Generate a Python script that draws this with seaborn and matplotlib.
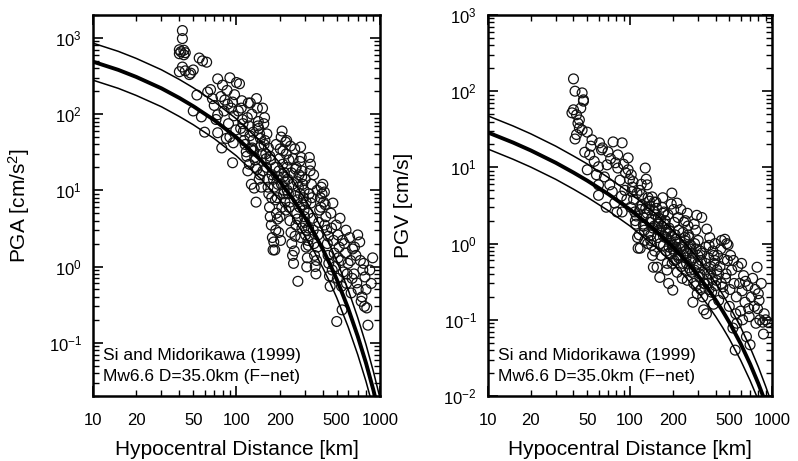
import numpy as np
import pandas as pd
import matplotlib
matplotlib.use("Agg")
import matplotlib.pyplot as plt
import seaborn as sns
from matplotlib.ticker import FixedLocator, FixedFormatter, FuncFormatter, LogLocator, NullFormatter

# attenuation curves (Si and Midorikawa 1999)
curve_dist = [10, 15, 20, 30, 40, 50, 70, 100, 150, 200, 250, 300, 350, 400, 450,
              500, 600, 700, 800, 900, 1000]
pga_mean = [488, 381, 308, 218, 163, 127, 83.5, 49.5, 24.2, 13.1, 7.5, 4.4, 2.7, 1.68,
            1.06, 0.68, 0.284, 0.122, 0.054, 0.024, 0.0108]
pga_upper = [854, 667, 539, 382, 285, 222, 146, 86.6, 42.4, 22.9, 13.1, 7.7, 4.7, 2.94,
             1.86, 1.19, 0.50, 0.214, 0.0945, 0.042, 0.0189]
pga_lower = [279, 218, 176, 125, 93, 72.6, 47.7, 28.3, 13.8, 7.5, 4.3, 2.5, 1.54, 0.96,
             0.61, 0.39, 0.162, 0.070, 0.031, 0.0137, 0.0062]
pgv_mean = [28.7, 21.2, 16.7, 11.5, 8.55, 6.7, 4.49, 2.80, 1.51, 0.908, 0.58, 0.385,
            0.263, 0.183, 0.1295, 0.0927, 0.0489, 0.0264, 0.0146, 0.0082, 0.0047]
pgv_upper = [47.4, 35, 27.6, 19, 14.1, 11.1, 7.4, 4.62, 2.49, 1.5, 0.96, 0.635, 0.434,
             0.302, 0.214, 0.153, 0.0807, 0.0436, 0.0241, 0.0135, 0.0078]
pgv_lower = [17.4, 12.8, 10.1, 6.97, 5.18, 4.06, 2.72, 1.70, 0.915, 0.55, 0.352, 0.233,
             0.159, 0.111, 0.0785, 0.0562, 0.0296, 0.016, 0.00885, 0.00497, 0.00285]

# observed PGA [cm/s2] vs hypocentral distance [km]
pga_dist = [42, 42, 40, 41, 43, 44, 40, 42, 43, 50, 40, 47, 55, 62, 58, 44, 48, 50, 57, 60,
            74, 90, 63, 86, 83, 94, 53, 74, 74, 90, 79, 94, 66, 70, 78, 82, 88, 92, 96, 99,
            85, 72, 68, 80, 97, 100, 95, 87,
            105, 108, 110, 112, 115, 118, 120, 122, 125, 128, 130, 132, 135, 138, 140, 142,
            145, 148, 150, 103, 107, 113, 117, 123, 127, 133, 137, 143, 147, 109, 119, 124,
            129, 134, 139, 144, 149, 111, 121, 131,
            152, 155, 158, 160, 162, 165, 168, 170, 172, 175, 178, 180, 182, 185, 188, 190,
            192, 195, 198, 200, 202, 205, 208, 210, 212, 215, 218, 220, 157, 163, 167, 173,
            177, 183, 187, 193, 197, 203, 207, 213, 217, 153, 171, 189, 211,
            222, 225, 228, 230, 233, 236, 240, 243, 246, 250, 253, 256, 260, 263, 266, 268,
            270, 273, 276, 280, 283, 286, 290, 293, 296, 300, 303, 306, 309, 312, 315, 318,
            224, 238, 248, 258, 265, 278, 288, 298, 308, 317, 232, 255, 285,
            322, 326, 330, 333, 336, 340, 343, 347, 350, 354, 358, 362, 366, 370, 375, 380,
            385, 390, 395, 400, 405, 410, 415, 420, 425, 430, 435, 440, 445, 450, 328, 345,
            365, 388, 412, 437,
            455, 460, 470, 475, 480, 490, 500, 505, 510, 520, 527, 535, 545, 555, 565, 575,
            585, 600, 615, 630, 645, 465, 495, 540, 580, 512, 548, 590, 625, 640,
            660, 680, 690, 700, 723, 740, 750, 770, 786, 800, 810, 825, 850, 890, 870, 665,
            705, 730, 760, 780,
            126, 136, 146, 156, 166, 176, 186, 196, 206, 216, 226, 236, 246, 256, 266, 276,
            286, 296, 306, 316, 141, 161, 181, 201, 221, 241, 261, 281, 301, 321]
pga_obs = [1250, 980, 700, 660, 690, 640, 620, 415, 600, 380, 360, 330, 545, 480, 500, 370,
           345, 110, 92, 58,
           290, 300, 195, 205, 153, 144, 178, 98, 57, 50, 36, 23, 210, 130, 170, 110, 75, 120,
           95, 62, 48, 85, 160, 240, 180, 260, 42, 135,
           250, 120, 85, 60, 40, 28, 18, 70, 140, 100, 45, 33, 25, 160, 120, 80, 55, 38, 30,
           110, 65, 45, 32, 22, 12, 10.7, 7, 65, 48, 150, 90, 52, 36, 27, 19, 14, 11, 75, 140,
           58,
           120, 75, 45, 30, 20, 14, 9, 6, 4.5, 3.5, 2.4, 1.65, 2.1, 1.65, 3, 5, 8, 12, 18, 26,
           35, 50, 60, 22, 15, 10, 7, 43, 90, 55, 36, 25, 16, 11, 7.5, 4.2, 2.8, 2.2, 6, 9, 13,
           18, 28, 40, 33,
           30, 20, 14, 9, 6, 4, 2.8, 2, 1.4, 1.1, 1.6, 2.5, 3.5, 5, 7.5, 0.64, 11, 16, 24, 37,
           27, 18, 12, 8, 5.5, 3.8, 2.6, 1.8, 0.99, 1.3, 2.2, 3.2, 45, 38, 26, 19, 13, 9, 6.5,
           4.5, 3, 1.9, 25, 35, 15,
           27, 18, 6.8, 12, 8, 4.3, 3, 2, 1.4, 1, 0.8, 1.2, 1.8, 2.6, 3.8, 5.5, 8, 11, 9, 12,
           7, 9.5, 6.5, 4.5, 3, 2, 1.4, 1.1, 0.75, 0.55, 22, 16, 10, 6, 3.5, 2.5,
           5, 3.2, 6.8, 2.2, 1.5, 1, 0.19, 0.7, 2.6, 1.8, 4.3, 1.2, 0.27, 0.85, 2, 1.5, 0.6,
           1.1, 2.4, 0.45, 1.7, 0.9, 3.5, 0.55, 3, 1.3, 2.2, 0.8, 1.2, 0.7,
           0.8, 1.4, 0.61, 2.6, 2.1, 0.35, 0.4, 1.1, 0.73, 0.5, 0.286, 0.17, 0.9, 1.3, 0.6,
           1.8, 0.5, 1.2, 0.9, 0.3,
           35, 20, 16, 40, 11, 8, 20, 15, 12, 17, 10, 7, 12, 8.5, 4.2, 6, 3.2, 10, 7, 5, 70,
           26, 14, 4.5, 5.5, 17, 20, 2.4, 14, 9]

# observed PGV [cm/s] vs hypocentral distance [km]
pgv_dist = [40, 41, 46, 47, 40, 42, 44, 44, 41, 50, 47, 45, 43, 48, 52, 39, 46, 42,
            54, 61, 76, 88, 63, 82, 97, 50, 60, 69, 82, 97, 60, 72, 60, 78, 81, 88, 56, 66,
            73, 85, 92, 95, 58, 64, 70, 75, 90, 99, 68, 79, 87, 93, 53,
            102, 104, 106, 108, 110, 112, 114, 116, 118, 120, 122, 124, 126, 128, 130, 132,
            134, 136, 138, 140, 142, 144, 146, 148, 150, 101, 105, 109, 113, 117, 121, 125,
            129, 133, 137, 141, 145, 149, 103, 111, 119, 127, 135, 143, 147,
            152, 155, 158, 160, 163, 165, 168, 170, 173, 175, 178, 180, 183, 185, 188, 190,
            193, 195, 197, 200, 203, 205, 208, 210, 213, 215, 218, 220, 154, 162, 167, 172,
            177, 182, 187, 192, 199, 204, 209, 214, 219, 157, 171, 186, 201,
            223, 226, 230, 233, 236, 240, 243, 247, 250, 253, 256, 260, 264, 268, 272, 277,
            281, 285, 290, 295, 300, 305, 310, 315, 320, 228, 238, 248, 258, 266, 275, 283,
            292, 302, 312, 245, 253, 262, 297, 318,
            325, 330, 337, 342, 347, 352, 358, 364, 370, 376, 383, 390, 397, 405, 413, 421,
            430, 440, 450, 460, 465, 475, 480, 490, 500, 335, 360, 387, 410, 435, 455, 470,
            485, 345, 395,
            510, 520, 530, 540, 550, 560, 575, 590, 600, 615, 630, 645, 660, 675, 690, 700,
            715, 535, 565, 610, 650, 685, 505, 620, 555,
            730, 750, 770, 784, 790, 800, 820, 840, 860, 880, 900, 935, 760, 870, 810,
            124, 132, 140, 148, 156, 164, 172, 180, 188, 196, 204, 212, 220, 228, 236, 244,
            252, 260, 268, 276, 284, 292, 300, 310, 320, 330, 340, 350, 360, 370, 380, 390,
            400, 420, 440, 118, 138, 158, 178, 198]
pgv_obs = [145, 100, 95, 77, 57, 49, 42, 33, 23.6, 29, 74, 60, 38, 15.8, 14.6, 52, 31, 27,
           23, 21, 21.6, 21, 17, 14.6, 13.3, 9.3, 10.2, 10.8, 9.8, 9.3, 5.9, 5.9, 4.3, 3.4,
           2.6, 2.6, 12, 7.5, 13, 6.8, 5, 3.8, 8, 18, 16, 4.8, 11, 7, 3, 11.5, 4.2, 8.5, 19,
           8, 5.5, 3.8, 2.6, 1.8, 4.6, 0.87, 1.3, 0.87, 6, 3.2, 2.2, 1.5, 9.8, 7, 5.9, 4, 2.8,
           1.9, 1.3, 0.95, 0.7, 0.49, 3.5, 2.4, 3, 6.5, 2, 1.2, 5, 4.4, 1.7, 2.9, 1, 3.6, 2.1,
           1.6, 0.8, 4.8, 2.3, 3.1, 1.1, 1.4, 4.1, 2.7,
           3.5, 0.49, 2.2, 1.5, 1, 0.7, 3, 4, 2.6, 1.8, 1.2, 0.8, 0.55, 2.4, 1.6, 1.1, 0.75,
           3.3, 4.6, 0.245, 2.8, 1.9, 1.3, 0.9, 0.62, 0.42, 2.2, 1.5, 2.9, 0.36, 1.7, 1.25, 2,
           0.45, 0.3, 1.45, 0.95, 0.6, 1.05, 3.4, 0.7, 1.8, 2.5, 1.35, 0.85,
           1, 0.7, 0.5, 0.35, 1.4, 1.9, 1.1, 0.8, 0.55, 2.5, 1.7, 1.2, 0.85, 0.6, 0.42, 0.17,
           0.3, 1, 1.5, 2.35, 0.7, 0.5, 0.36, 0.25, 2.2, 2.8, 0.95, 0.65, 1.3, 0.45, 0.75, 1.8,
           0.28, 1.1, 0.8, 2, 0.33, 0.9, 0.22, 0.6,
           0.2, 0.135, 0.45, 0.9, 1.55, 0.3, 0.65, 1.2, 0.4, 0.23, 0.8, 0.55, 1, 0.33, 0.7,
           0.18, 0.5, 1.1, 0.27, 0.62, 1.14, 0.4, 1, 0.96, 0.15, 0.3, 0.95, 0.16, 0.45, 0.85,
           0.22, 0.35, 0.6, 0.12, 0.6,
           0.7, 0.45, 0.078, 0.3, 0.04, 0.2, 0.5, 0.3, 0.13, 0.24, 0.38, 0.17, 0.06, 0.28,
           0.11, 0.047, 0.2, 0.6, 0.09, 0.55, 0.32, 0.14, 0.25, 0.1, 0.12,
           0.35, 0.15, 0.09, 0.49, 0.14, 0.22, 0.1, 0.3, 0.093, 0.12, 0.1, 0.093, 0.25, 0.065,
           0.18,
           1.8, 2.5, 1.1, 1.7, 1.2, 2.1, 0.95, 1.5, 0.9, 1.25, 0.8, 1.15, 0.65, 0.9, 0.55, 1.2,
           0.75, 0.48, 0.95, 0.65, 0.45, 0.85, 0.55, 0.4, 0.75, 0.3, 0.55, 0.4, 0.25, 0.5,
           0.35, 0.7, 0.28, 0.4, 0.3, 2.8, 3.1, 1.9, 1.4, 0.55]

x_ticks = [10, 20, 50, 100, 200, 500, 1000]
note_lines = ["Si and Midorikawa (1999)", "Mw6.6 D=35.0km (F\u2212net)"]

sns.set_style("ticks")
plt.rcParams['font.family'] = ['Liberation Sans', 'DejaVu Sans']
plt.rcParams['mathtext.default'] = 'regular'
plt.rcParams['text.color'] = 'black'
plt.rcParams['axes.labelcolor'] = 'black'
plt.rcParams['xtick.color'] = 'black'
plt.rcParams['ytick.color'] = 'black'


def draw_panel(ax, dist, obs, mean, upper, lower, ylim, ylabel, ylabel_x):
    obs_df = pd.DataFrame({'dist': dist, 'obs': obs})
    sns.scatterplot(data=obs_df, x='dist', y='obs', ax=ax, marker='o', s=50,
                    facecolors='none', edgecolor='#111111', linewidth=0.9)
    for vals, lw in [(upper, 1.1), (mean, 2.8), (lower, 1.1)]:
        sns.lineplot(x=curve_dist, y=vals, ax=ax, color='black', lw=lw,
                     estimator=None, sort=False)
    ax.set(xscale='log', yscale='log')
    ax.set_xlim(10, 1000)
    ax.set_ylim(*ylim)

    ax.xaxis.set_major_locator(FixedLocator([10, 100, 1000]))
    ax.xaxis.set_major_formatter(FixedFormatter(['10', '100', '1000']))
    ax.xaxis.set_minor_locator(FixedLocator([20, 30, 40, 50, 60, 70, 80, 90,
                                             200, 300, 400, 500, 600, 700, 800, 900]))
    ax.xaxis.set_minor_formatter(FuncFormatter(
        lambda v, p: f"{v:g}" if int(round(v)) in x_ticks else ""))
    ax.yaxis.set_major_locator(LogLocator(base=10, numticks=12))
    ax.yaxis.set_minor_locator(LogLocator(base=10, subs=np.arange(2, 10), numticks=40))
    ax.yaxis.set_minor_formatter(NullFormatter())

    ax.tick_params(which='both', direction='in', top=True, right=True,
                   labelsize=12, colors='black')
    ax.tick_params(which='major', length=7, width=1.2)
    ax.tick_params(which='minor', length=4, width=1.0)
    ax.tick_params(axis='x', which='both', pad=12)
    ax.tick_params(axis='y', which='both', pad=8)
    for sp in ax.spines.values():
        sp.set_linewidth(1.8)
        sp.set_color('black')

    ax.set_xlabel('Hypocentral Distance [km]', fontsize=15)
    ax.set_ylabel(ylabel, fontsize=15)
    ax.xaxis.set_label_coords(0.5, -0.115)
    ax.yaxis.set_label_coords(ylabel_x, 0.5)

    ax.text(0.035, 0.107, note_lines[0], transform=ax.transAxes, fontsize=12.5,
            va='center', ha='left', color='black')
    ax.text(0.035, 0.05, note_lines[1], transform=ax.transAxes, fontsize=12.5,
            va='center', ha='left', color='black')


fig = plt.figure(figsize=(7.98, 4.61), dpi=100)
ax1 = fig.add_axes([0.1165, 0.141, 0.3596, 0.8265])
ax2 = fig.add_axes([0.6115, 0.141, 0.356, 0.8265])

draw_panel(ax1, pga_dist, pga_obs, pga_mean, pga_upper, pga_lower,
           (0.02, 2000), 'PGA [cm/s$^2$]', -0.2125)
draw_panel(ax2, pgv_dist, pgv_obs, pgv_mean, pgv_upper, pgv_lower,
           (0.01, 1000), 'PGV [cm/s]', -0.265)

fig.savefig('out.png', dpi=100, facecolor='white')
